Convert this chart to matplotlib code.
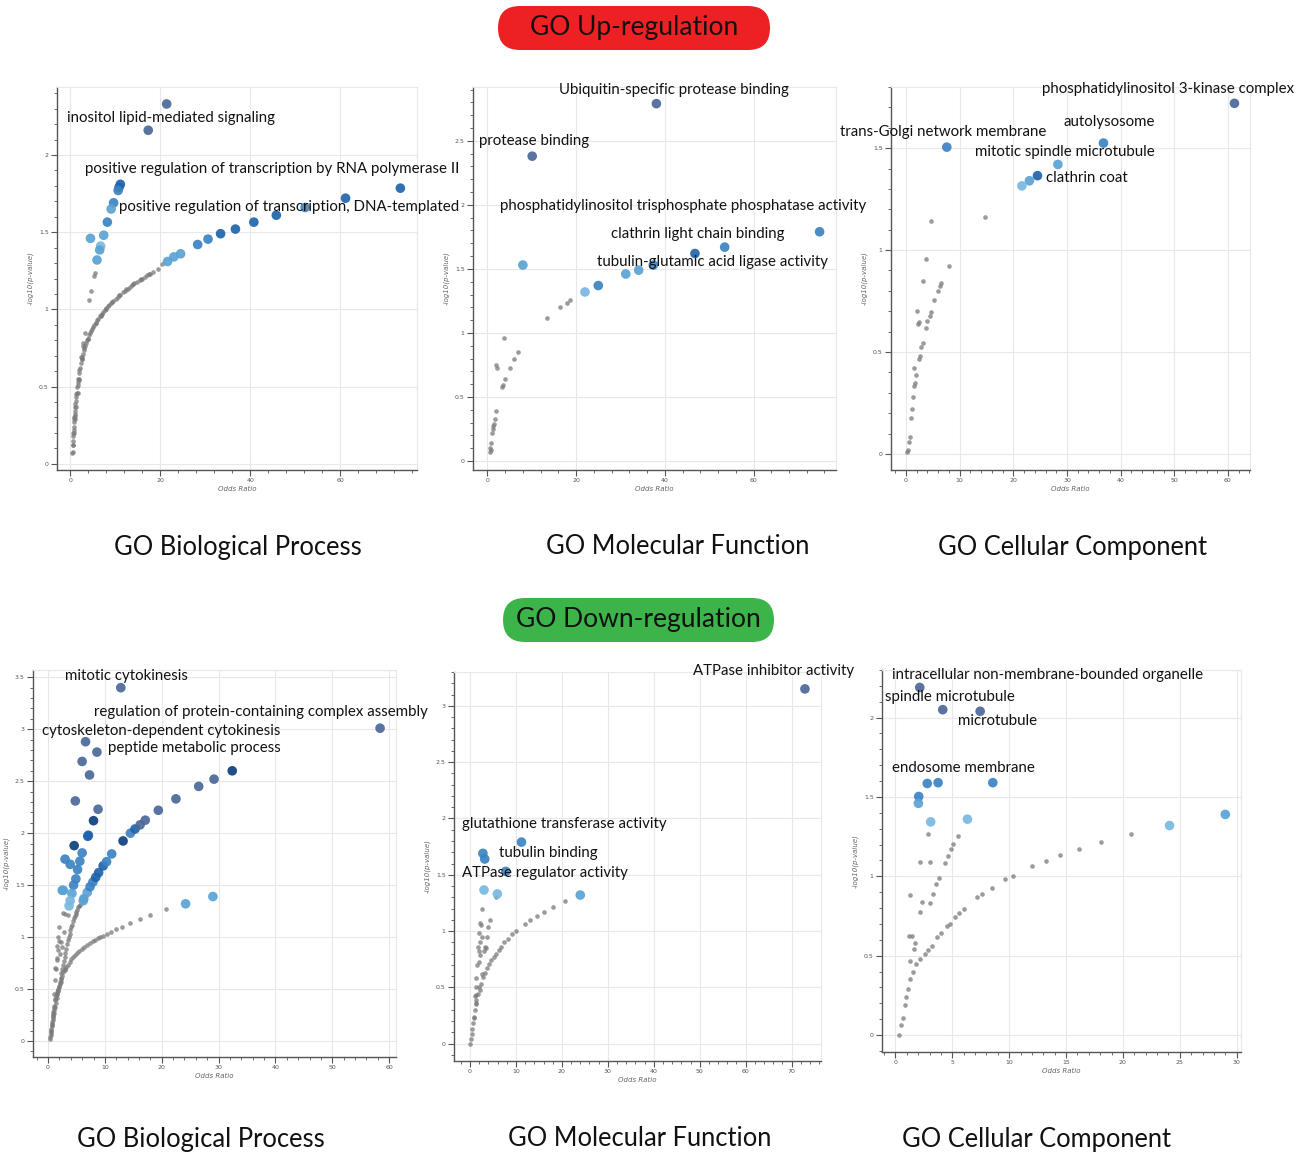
import matplotlib
matplotlib.use("Agg")
import matplotlib.pyplot as plt
from matplotlib.patches import FancyBboxPatch
from matplotlib.ticker import MultipleLocator

# colour codes used for the enriched (blue) terms
SHADES = {'s': '#4b6898', 'n': '#0f3f7e', 'd': '#1f64ab', 'm': '#3c83c2',
          'l': '#5aa2d4', 'p': '#7ab8e0'}

# ---------------- GO Up-regulation ----------------
# Biological Process
bp_up_grey_x = [0.3, 0.45, 0.6, 0.74, 0.96, 1.19, 1.48, 1.85, 2.3, 2.8, 3.4, 4.15, 5.05, 6.2,
                7.3, 8.6, 10.1, 11.7, 13.2, 14.8, 16.5, 18.4, 19.5, 20.4,
                0.5, 0.7, 0.85, 1.1, 1.33, 1.7, 1.85, 2.45, 2.8, 2.8, 3.2, 4.15, 4.5, 5.27, 5.4,
                1.0, 1.3, 1.6, 2.0, 2.6, 3.0, 3.8, 4.6, 5.6, 6.8, 8.0, 9.3, 10.9, 12.4, 14.0, 15.6, 17.4,
                0.5, 0.55, 0.65, 0.7, 0.8, 0.85, 0.9, 1.0, 1.1, 1.25, 1.35, 1.6, 1.7, 2.0, 2.1, 2.5,
                2.6, 3.0, 3.2, 3.6, 3.8, 4.4, 4.7, 5.3, 5.6, 5.9, 6.5, 6.8, 7.0, 7.6, 8.0, 8.3, 9.0,
                9.5, 10.5, 11.0, 12.2, 12.7, 13.7, 14.2, 15.4, 16.0, 17.0, 17.7]
bp_up_grey_y = [0.07, 0.076, 0.15, 0.24, 0.325, 0.41, 0.5, 0.585, 0.65, 0.714, 0.78, 0.833, 0.887, 0.94,
                0.985, 1.028, 1.07, 1.11, 1.147, 1.18, 1.21, 1.245, 1.264, 1.292,
                0.12, 0.2, 0.3, 0.39, 0.455, 0.51, 0.54, 0.69, 0.76, 0.78, 0.846, 1.06, 1.12, 1.216, 1.237,
                0.29, 0.37, 0.46, 0.55, 0.68, 0.75, 0.81, 0.86, 0.91, 0.96, 1.005, 1.05, 1.09, 1.13, 1.165, 1.195, 1.23,
                0.12, 0.18, 0.2, 0.22, 0.27, 0.29, 0.31, 0.34, 0.37, 0.43, 0.46, 0.53, 0.55, 0.61, 0.62, 0.68,
                0.69, 0.74, 0.76, 0.8, 0.81, 0.85, 0.87, 0.9, 0.915, 0.93, 0.955, 0.965, 0.97, 0.995, 1.01, 1.02, 1.04,
                1.055, 1.08, 1.095, 1.12, 1.135, 1.155, 1.17, 1.19, 1.2, 1.22, 1.23]
bp_up_x = [21.4, 17.3, 11.1, 10.8, 10.6, 9.6, 9.05, 8.2, 7.4, 4.45, 6.7, 6.5, 5.9,
           21.6, 23.0, 24.5, 28.3, 30.6, 33.4, 36.7, 40.8, 45.8, 52.2, 61.2, 73.4]
bp_up_y = [2.33, 2.16, 1.81, 1.79, 1.77, 1.69, 1.65, 1.565, 1.48, 1.46, 1.41, 1.385, 1.32,
           1.31, 1.34, 1.36, 1.42, 1.455, 1.49, 1.52, 1.565, 1.61, 1.66, 1.72, 1.785]
bp_up_c = ['s', 's', 'd', 'd', 'm', 'm', 'l', 'm', 'l', 'l', 'p', 'l', 'l',
           'l', 'l', 'l', 'm', 'm', 'd', 'd', 'd', 'd', 'm', 'd', 'd']
bp_up_labels = ['inositol lipid-mediated signaling',
                'positive regulation of transcription by RNA polymerase II',
                'positive regulation of transcription, DNA-templated']

# Molecular Function
mf_up_grey_x = [0.5, 0.7, 0.9, 1.1, 1.3, 1.4, 1.65, 2.0, 1.9, 2.2, 3.3, 3.5, 4.0, 5.0, 5.9, 6.8,
                3.7, 13.4, 16.3, 17.9, 18.7, 0.6, 1.2]
mf_up_grey_y = [0.07, 0.085, 0.14, 0.22, 0.27, 0.29, 0.33, 0.39, 0.75, 0.73, 0.58, 0.595, 0.64, 0.73, 0.8, 0.85,
                0.957, 1.12, 1.2, 1.235, 1.255, 0.1, 0.25]
mf_up_x = [38.1, 10.1, 8.0, 22.0, 25.0, 31.2, 34.1, 37.4, 46.8, 53.5, 74.9]
mf_up_y = [2.79, 2.38, 1.53, 1.32, 1.37, 1.46, 1.49, 1.53, 1.62, 1.67, 1.79]
mf_up_c = ['s', 's', 'l', 'p', 'm', 'l', 'l', 'm', 'd', 'm', 'm']
mf_up_labels = ['Ubiquitin-specific protease binding', 'protease binding',
                'phosphatidylinositol trisphosphate phosphatase activity',
                'clathrin light chain binding', 'tubulin-glutamic acid ligase activity']

# Cellular Component
cc_up_grey_x = [0.25, 0.43, 0.62, 0.75, 0.87, 1.1, 1.37, 1.55, 1.6, 1.93, 1.55, 2.4, 2.6, 2.86, 3.1,
                2.2, 2.36, 2.05, 3.7, 4.0, 4.4, 4.7, 5.3, 6.0, 6.3, 6.6, 3.1, 3.7, 4.7, 8.1, 14.7]
cc_up_grey_y = [0.011, 0.02, 0.056, 0.085, 0.178, 0.22, 0.277, 0.334, 0.347, 0.385, 0.42, 0.465, 0.478, 0.524, 0.544,
                0.635, 0.645, 0.70, 0.617, 0.65, 0.678, 0.696, 0.753, 0.80, 0.822, 0.838, 0.847, 0.958, 1.145, 0.92, 1.16]
cc_up_x = [61.2, 7.6, 36.8, 28.3, 24.5, 23.0, 21.6]
cc_up_y = [1.72, 1.505, 1.525, 1.42, 1.365, 1.34, 1.315]
cc_up_c = ['s', 'm', 'm', 'l', 'd', 'l', 'p']
cc_up_labels = ['phosphatidylinositol 3-kinase complex', 'autolysosome', 'trans-Golgi network membrane',
                'mitotic spindle microtubule', 'clathrin coat']

# ---------------- GO Down-regulation ----------------
bp_dn_grey_x = [0.3, 0.45, 0.6, 0.75, 0.9, 1.05, 1.2, 1.5, 1.8, 2.05, 2.3, 2.7, 3.2, 3.8, 4.4, 5.1, 5.9, 6.9,
                7.9, 8.8, 9.7, 11.1, 13.1, 14.5, 16.1, 18.0, 20.7,
                0.8, 1.0, 1.2, 1.5, 1.8, 2.05, 2.3, 2.6, 2.9, 3.2, 3.5, 3.8, 4.1, 4.4, 4.7, 5.0, 5.3, 5.6,
                1.8, 2.6, 3.5, 1.5, 2.05, 1.6, 1.2, 1.4, 1.0,
                0.35, 0.5, 0.55, 0.65, 0.7, 0.8, 0.85, 0.95, 1.1, 1.3, 1.4, 1.6, 1.7, 1.9, 2.2, 2.5,
                2.9, 3.0, 3.5, 4.1, 4.7, 5.4, 6.3, 7.4, 8.3, 9.2, 10.4, 12.0,
                0.6, 0.7, 0.9, 1.1, 1.35, 1.65, 1.95, 2.2, 2.45, 2.75, 3.05, 3.35, 3.65, 3.95, 4.25,
                4.55, 4.85, 5.15, 5.45,
                1.5, 1.7, 2.2, 1.9, 2.4, 1.3, 2.0, 3.0, 2.8]
bp_dn_grey_y = [0.02, 0.06, 0.1, 0.16, 0.26, 0.32, 0.39, 0.45, 0.5, 0.55, 0.6, 0.66, 0.71, 0.76, 0.81, 0.85, 0.89, 0.925,
                0.96, 0.99, 1.015, 1.05, 1.1, 1.135, 1.17, 1.215, 1.27,
                0.2, 0.27, 0.33, 0.41, 0.49, 0.57, 0.65, 0.73, 0.81, 0.89, 0.97, 1.03, 1.10, 1.15, 1.2, 1.24, 1.29, 1.31,
                1.0, 1.23, 1.21, 0.91, 0.84, 0.78, 0.585, 0.69, 0.45,
                0.04, 0.08, 0.12, 0.14, 0.18, 0.22, 0.24, 0.28, 0.34, 0.4, 0.43, 0.47, 0.48, 0.52, 0.57, 0.63,
                0.68, 0.69, 0.735, 0.785, 0.83, 0.865, 0.905, 0.94, 0.975, 1.0, 1.03, 1.075,
                0.1, 0.15, 0.24, 0.3, 0.37, 0.45, 0.53, 0.61, 0.69, 0.77, 0.85, 0.93, 1.0, 1.07, 1.12,
                1.18, 1.22, 1.26, 1.3,
                0.8, 0.88, 0.95, 0.96, 0.9, 0.7, 1.1, 1.22, 1.05]
bp_dn_x = [12.8, 58.4, 6.6, 8.6, 6.0, 7.3, 4.8, 8.8, 8.0, 7.1, 7.0, 4.6, 6.0, 5.6, 5.2, 4.9, 4.5,
           3.0, 3.9, 2.5, 2.7, 4.2, 3.9, 3.7, 6.2, 6.3,
           6.9, 7.4, 7.9, 8.4, 8.9, 9.7, 10.3, 11.2, 13.2, 14.5, 15.3, 16.2, 17.1, 19.4, 22.5, 26.5, 29.2, 32.4,
           24.2, 29.0]
bp_dn_y = [3.40, 3.01, 2.88, 2.78, 2.69, 2.56, 2.31, 2.23, 2.12, 1.98, 1.97, 1.88, 1.81, 1.73, 1.65, 1.56, 1.50,
           1.75, 1.70, 1.45, 1.45, 1.42, 1.35, 1.30, 1.35, 1.37,
           1.43, 1.485, 1.53, 1.575, 1.62, 1.685, 1.725, 1.80, 1.925, 2.0, 2.04, 2.08, 2.125, 2.22, 2.33, 2.45, 2.52, 2.60,
           1.32, 1.39]
bp_dn_c = ['s', 's', 's', 's', 's', 's', 's', 's', 'n', 'd', 'd', 'n', 'm', 'm', 'm', 'm', 'm',
           'm', 'm', 'l', 'l', 'l', 'p', 'p', 'l', 'l',
           'l', 'm', 'm', 'd', 'd', 'd', 'm', 'm', 'n', 'm', 'd', 's', 's', 's', 's', 's', 's', 'n',
           'l', 'l']
bp_dn_labels = ['mitotic cytokinesis', 'regulation of protein-containing complex assembly',
                'cytoskeleton-dependent cytokinesis', 'peptide metabolic process']

mf_dn_grey_x = [0.07, 0.4, 0.65, 1.0, 1.4, 2.1, 2.8, 3.6, 4.6, 5.7, 6.8, 8.3, 10.1, 11.9, 13.1, 14.5, 16.0, 18.1, 20.6,
                2.6, 2.1, 2.0, 2.1, 1.75, 2.25, 2.0, 3.2, 3.6, 3.9, 4.3, 5.7, 1.4, 1.4, 0.8, 1.2, 1.9, 2.5,
                0.2, 0.5, 0.8, 1.2, 1.7, 2.4, 3.2, 4.1, 5.2, 6.2, 7.5, 9.1,
                1.0, 1.2, 1.6, 1.9, 2.3, 2.5, 3.5, 3.0]
mf_dn_grey_y = [0.0, 0.09, 0.18, 0.30, 0.39, 0.48, 0.59, 0.67, 0.74, 0.80, 0.86, 0.93, 1.0, 1.06, 1.10, 1.13, 1.17, 1.215, 1.27,
                1.20, 1.07, 0.98, 0.905, 0.86, 0.79, 0.73, 0.86, 0.95, 1.04, 1.10, 1.30, 0.58, 0.43, 0.23, 0.36, 0.5, 0.62,
                0.04, 0.13, 0.24, 0.35, 0.44, 0.53, 0.63, 0.71, 0.77, 0.83, 0.9, 0.97,
                0.42, 0.5, 0.7, 0.82, 1.05, 0.95, 0.85, 0.82]
mf_dn_x = [72.9, 11.2, 2.8, 3.2, 7.8, 3.05, 5.95, 24.0]
mf_dn_y = [3.15, 1.79, 1.69, 1.64, 1.53, 1.365, 1.33, 1.32]
mf_dn_c = ['s', 'm', 'm', 'm', 'm', 'p', 'p', 'l']
mf_dn_labels = ['ATPase inhibitor activity', 'glutathione transferase activity',
                'tubulin binding', 'ATPase regulator activity']

cc_dn_grey_x = [0.3, 0.53, 0.67, 0.82, 0.97, 1.1, 1.32, 1.55, 1.85, 2.14, 2.58, 2.87, 3.2, 3.67, 4.05, 4.5, 4.8,
                5.2, 5.57, 6.0, 7.2, 7.6, 8.5, 9.65, 10.3, 12.05, 13.2, 14.5, 16.1, 18.1, 20.7,
                1.26, 1.17, 1.47, 1.7, 1.6, 1.32, 2.14, 2.35, 2.2, 3.05, 2.9, 3.0, 3.3, 3.6, 3.8, 4.37, 4.6,
                4.9, 5.1, 5.5]
cc_dn_grey_y = [0.0, 0.06, 0.11, 0.19, 0.24, 0.29, 0.356, 0.40, 0.45, 0.48, 0.51, 0.535, 0.56, 0.62, 0.644, 0.69, 0.70,
                0.745, 0.766, 0.796, 0.867, 0.886, 0.928, 0.98, 1.004, 1.063, 1.097, 1.133, 1.173, 1.217, 1.267,
                0.88, 0.623, 0.625, 0.58, 0.54, 0.467, 0.773, 0.84, 1.093, 1.093, 1.267, 0.83, 0.89, 0.95, 0.99, 1.084, 1.126,
                1.175, 1.204, 1.257]
cc_dn_x = [2.14, 4.16, 7.45, 2.8, 3.75, 8.56, 2.05, 2.02, 3.1, 6.33, 24.1, 29.0]
cc_dn_y = [2.19, 2.05, 2.04, 1.585, 1.59, 1.59, 1.503, 1.46, 1.343, 1.36, 1.32, 1.39]
cc_dn_c = ['s', 's', 's', 'm', 'm', 'm', 'm', 'l', 'p', 'p', 'p', 'l']
cc_dn_labels = ['intracellular non-membrane-bounded organelle', 'spindle microtubule',
                'microtubule', 'endosome membrane']

titles = ['GO Biological Process', 'GO Molecular Function', 'GO Cellular Component']

W, H = 1314, 1153
fig = plt.figure(figsize=(W / 100, H / 100), dpi=100)
LABEL_FONT = ['Lato', 'DejaVu Sans']


def make_ax(box, xlim, ylim, xstep, ystep, xminor, yminor):
    l, t, r, b = box
    ax = fig.add_axes([l / W, 1 - b / H, (r - l) / W, (b - t) / H])
    ax.set_xlim(*xlim)
    ax.set_ylim(*ylim)
    ax.xaxis.set_major_locator(MultipleLocator(xstep))
    ax.yaxis.set_major_locator(MultipleLocator(ystep))
    ax.xaxis.set_minor_locator(MultipleLocator(xminor))
    ax.yaxis.set_minor_locator(MultipleLocator(yminor))
    ax.grid(True, which='major', color='#e8e8e8', linewidth=0.8)
    ax.set_axisbelow(True)
    for s in ['top', 'right']:
        ax.spines[s].set_color('#e8e8e8')
        ax.spines[s].set_linewidth(0.8)
    for s in ['left', 'bottom']:
        ax.spines[s].set_color('#555555')
        ax.spines[s].set_linewidth(1.0)
    ax.tick_params(which='major', length=4, width=0.8, color='#555555',
                   labelsize=4.5, labelcolor='#555555', pad=2)
    ax.tick_params(which='minor', length=2, width=0.6, color='#555555')
    ax.xaxis.set_major_formatter(matplotlib.ticker.FuncFormatter(lambda v, p: f'{v:g}'))
    ax.yaxis.set_major_formatter(matplotlib.ticker.FuncFormatter(lambda v, p: f'{v:g}'))
    ax.set_xlabel('Odds Ratio', fontsize=5, style='italic', color='#666666', labelpad=2)
    ax.set_ylabel('-log10(p-value)', fontsize=5, style='italic', color='#666666', labelpad=4)
    return ax


def draw(ax, gx, gy, bx, by, bc, labels, label_pos):
    ax.scatter(gx, gy, s=11, color='#7a7a7a', alpha=0.75, linewidths=0, zorder=2)
    ax.scatter(bx, by, s=48, c=[SHADES[k] for k in bc], alpha=0.92, linewidths=0, zorder=3)
    for txt, (tx, ty) in zip(labels, label_pos):
        ax.text(tx, ty, txt, fontsize=10.8, family=LABEL_FONT, ha='left', va='center',
                color='#111111', clip_on=False, zorder=5)


ax1 = make_ax((57, 87, 417, 470), (-3.0, 77.1), (-0.04, 2.44), 20, 0.5, 4, 0.1)
draw(ax1, bp_up_grey_x, bp_up_grey_y, bp_up_x, bp_up_y, bp_up_c, bp_up_labels,
     [(-0.8, 2.24), (3.2, 1.91), (10.8, 1.665)])

ax2 = make_ax((473, 87, 836, 470), (-3.25, 78.6), (-0.07, 2.92), 20, 0.5, 4, 0.1)
draw(ax2, mf_up_grey_x, mf_up_grey_y, mf_up_x, mf_up_y, mf_up_c, mf_up_labels,
     [(16.1, 2.90), (-1.96, 2.50), (2.77, 1.99), (27.8, 1.775), (24.7, 1.55)])

ax3 = make_ax((891, 87, 1250, 470), (-2.8, 64.1), (-0.079, 1.80), 10, 0.5, 2, 0.1)
draw(ax3, cc_up_grey_x, cc_up_grey_y, cc_up_x, cc_up_y, cc_up_c, cc_up_labels,
     [(25.3, 1.79), (29.4, 1.63), (-12.3, 1.58), (12.9, 1.48), (26.1, 1.356)])

ax4 = make_ax((33, 670, 396, 1057), (-2.64, 61.2), (-0.154, 3.57), 10, 0.5, 2, 0.1)
draw(ax4, bp_dn_grey_x, bp_dn_grey_y, bp_dn_x, bp_dn_y, bp_dn_c, bp_dn_labels,
     [(2.94, 3.517), (8.06, 3.17), (-1.1, 2.98), (10.5, 2.82)])

ax5 = make_ax((454, 672, 821, 1061), (-3.49, 76.4), (-0.153, 3.30), 10, 0.5, 2, 0.1)
draw(ax5, mf_dn_grey_x, mf_dn_grey_y, mf_dn_x, mf_dn_y, mf_dn_c, mf_dn_labels,
     [(48.5, 3.31), (-1.8, 1.955), (6.25, 1.69), (-1.8, 1.52)])

ax6 = make_ax((882, 670, 1241, 1052), (-1.18, 30.38), (-0.107, 2.30), 5, 0.5, 1, 0.1)
draw(ax6, cc_dn_grey_x, cc_dn_grey_y, cc_dn_x, cc_dn_y, cc_dn_c, cc_dn_labels,
     [(-0.33, 2.27), (-0.95, 2.13), (5.48, 1.98), (-0.33, 1.685)])

# section headers (pills)
for (x0, x1, y0, y1, col, txt) in [(498, 770, 6, 50, '#ed2024', 'GO Up-regulation'),
                                   (503, 774, 598, 642, '#3cb44a', 'GO Down-regulation')]:
    pill = FancyBboxPatch((x0 / 100, (H - y1) / 100), (x1 - x0) / 100, (y1 - y0) / 100,
                          boxstyle='round,pad=0,rounding_size=0.22', transform=fig.dpi_scale_trans,
                          facecolor=col, edgecolor='none')
    fig.patches.append(pill)
    fig.text((x0 + x1) / 2 / W, 1 - (y0 + y1) / 2 / H, txt, ha='center', va='center',
             fontsize=19, family=LABEL_FONT, color='#111111')

# panel titles
for cx, cy, t in [(238, 547, titles[0]), (678, 547, titles[1]), (1073, 547, titles[2]),
                  (201, 1139, titles[0]), (640, 1139, titles[1]), (1036, 1139, titles[2])]:
    fig.text(cx / W, 1 - cy / H, t, ha='center', va='center', fontsize=18.4,
             family=LABEL_FONT, color='#111111')

fig.savefig('out.png', dpi=100, facecolor='white')
